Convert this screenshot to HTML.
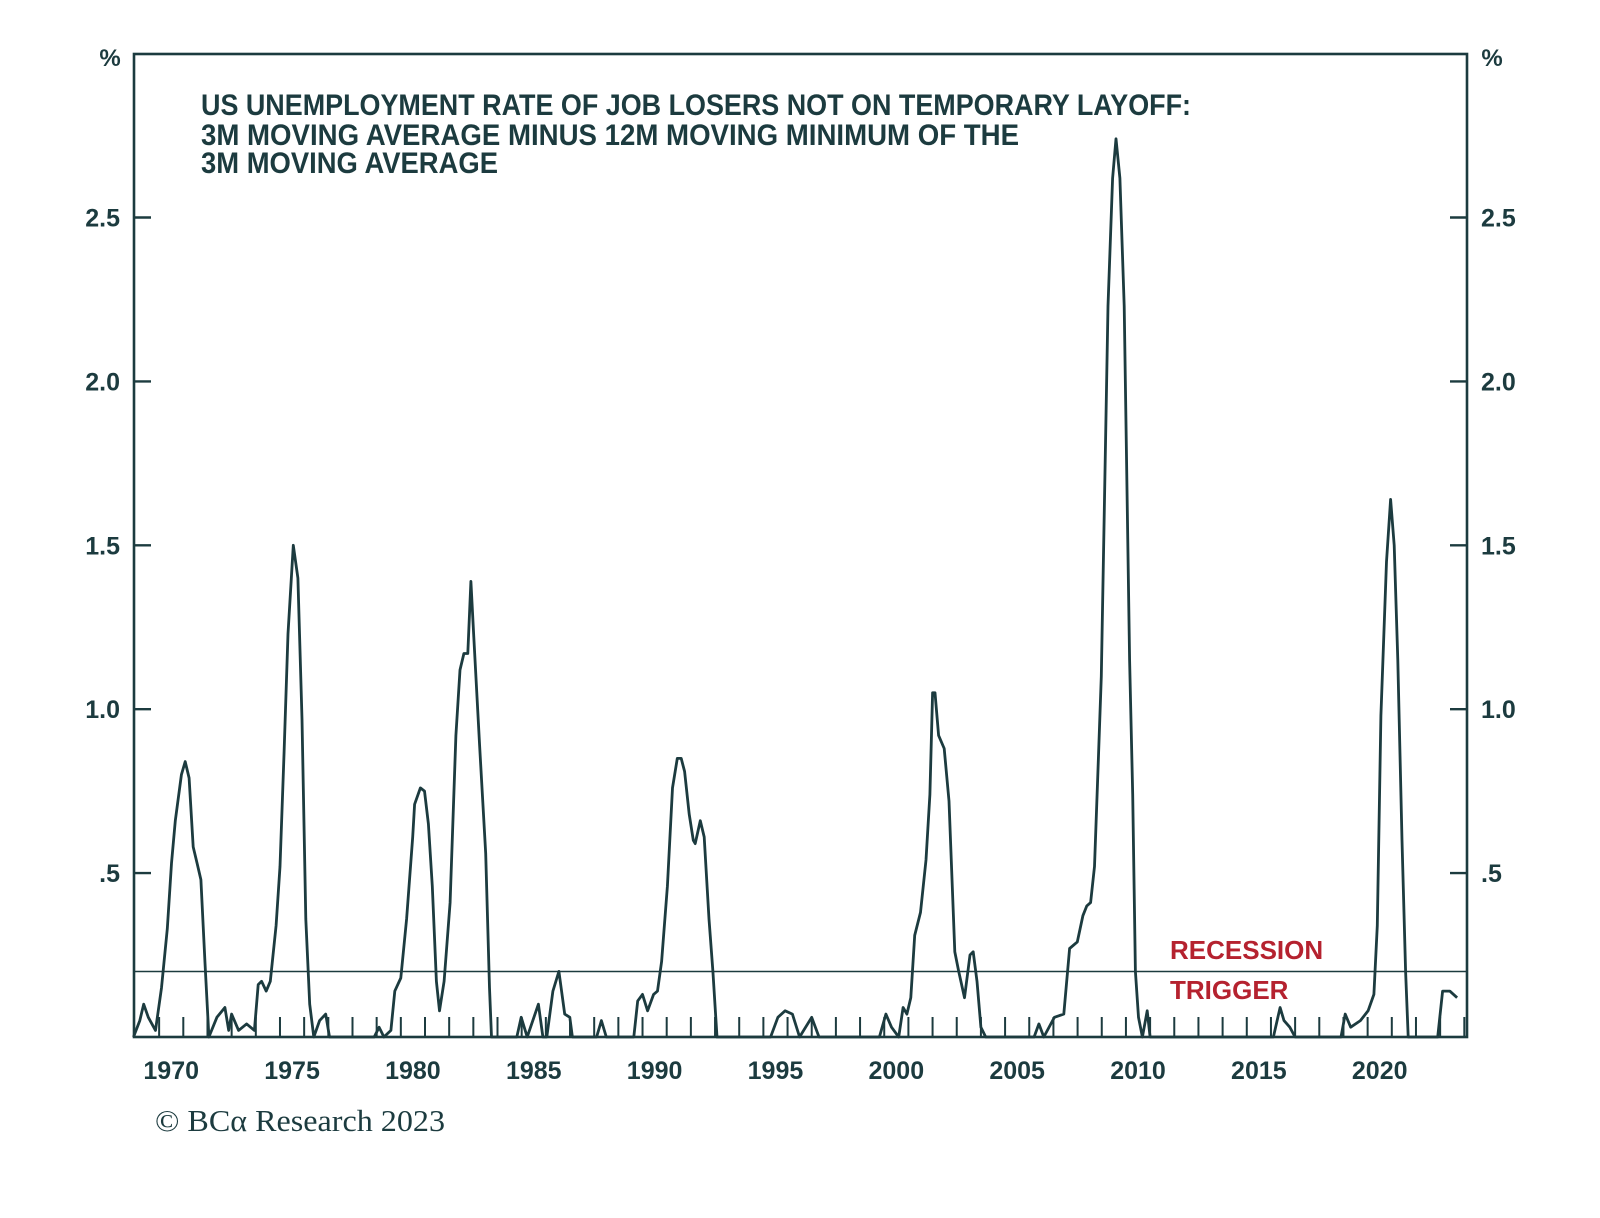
<!DOCTYPE html>
<html><head><meta charset="utf-8"><style>
html,body{margin:0;padding:0;background:#fff;}
body{position:relative;}
svg{display:block;}
#chart{position:absolute;left:0;top:0;}
</style></head>
<body>
<svg id="chart" width="1600" height="1218" viewBox="0 0 1600 1218" xmlns="http://www.w3.org/2000/svg">
<rect x="0" y="0" width="1600" height="1218" fill="#fff"/>
<g id="plot" style="font-family:'Liberation Sans',sans-serif"></g>
</svg>
<script>
const years = [1968.94,1969.2,1969.36,1969.55,1969.85,1970.1,1970.34,1970.51,1970.67,1970.92,1971.08,1971.24,1971.41,1971.57,1971.73,1971.9,1972.06,1972.39,1972.72,1972.88,1973.0,1973.29,1973.62,1973.94,1974.1,1974.24,1974.43,1974.6,1974.84,1975.0,1975.17,1975.33,1975.55,1975.74,1975.91,1976.07,1976.23,1976.4,1976.64,1976.89,1977.05,1978.9,1979.1,1979.3,1979.59,1979.75,1980.0,1980.24,1980.49,1980.57,1980.81,1980.98,1981.14,1981.3,1981.47,1981.6,1981.79,1982.04,1982.28,1982.45,1982.61,1982.77,1982.9,1983.02,1983.26,1983.51,1983.67,1983.75,1984.8,1984.98,1985.23,1985.69,1985.88,1986.04,1986.29,1986.54,1986.78,1986.99,1987.1,1988.1,1988.3,1988.5,1989.64,1989.8,1990.0,1990.21,1990.46,1990.62,1990.79,1991.03,1991.24,1991.44,1991.6,1991.74,1991.93,1992.1,1992.18,1992.39,1992.55,1992.75,1992.91,1993.08,1995.3,1995.6,1995.9,1996.2,1996.5,1997.0,1997.3,1999.8,2000.07,2000.3,2000.6,2000.78,2000.94,2001.1,2001.26,2001.5,2001.73,2001.89,2002.0,2002.1,2002.25,2002.48,2002.68,2002.92,2003.08,2003.32,2003.55,2003.68,2003.84,2004.0,2004.2,2006.2,2006.4,2006.6,2007.04,2007.43,2007.67,2007.99,2008.22,2008.38,2008.54,2008.7,2008.86,2008.98,2009.26,2009.45,2009.59,2009.75,2009.93,2010.15,2010.28,2010.39,2010.52,2010.68,2010.88,2011.0,2016.1,2016.38,2016.54,2016.78,2017.0,2018.9,2019.07,2019.3,2019.7,2020.02,2020.26,2020.4,2020.55,2020.78,2020.95,2021.1,2021.25,2021.42,2021.57,2021.68,2022.9,2023.1,2023.4,2023.7];
const values = [0,0.05,0.10,0.06,0.02,0.15,0.33,0.53,0.66,0.80,0.84,0.79,0.58,0.53,0.48,0.22,0.0,0.06,0.09,0.02,0.07,0.02,0.04,0.02,0.16,0.17,0.14,0.17,0.34,0.52,0.87,1.23,1.50,1.40,0.97,0.36,0.10,0.0,0.05,0.07,0.0,0.0,0.03,0.0,0.02,0.14,0.18,0.36,0.61,0.71,0.76,0.75,0.65,0.46,0.17,0.08,0.17,0.41,0.92,1.12,1.17,1.17,1.39,1.22,0.89,0.56,0.15,0.0,0.0,0.06,0.0,0.10,0.0,0.0,0.14,0.20,0.07,0.06,0.0,0.0,0.05,0.0,0.0,0.11,0.13,0.08,0.13,0.14,0.23,0.46,0.76,0.85,0.85,0.81,0.68,0.60,0.59,0.66,0.61,0.36,0.20,0.0,0.0,0.06,0.08,0.07,0.0,0.06,0.0,0.0,0.07,0.03,0.0,0.09,0.07,0.12,0.31,0.38,0.54,0.74,1.05,1.05,0.92,0.88,0.72,0.26,0.20,0.12,0.25,0.26,0.17,0.03,0.0,0.0,0.04,0.0,0.06,0.07,0.27,0.29,0.37,0.40,0.41,0.52,0.85,1.10,2.23,2.62,2.74,2.62,2.23,1.15,0.74,0.20,0.06,0.0,0.08,0.0,0.0,0.09,0.05,0.03,0.0,0.0,0.07,0.03,0.05,0.08,0.13,0.34,0.98,1.45,1.64,1.50,1.15,0.60,0.20,0.0,0.0,0.14,0.14,0.12];
const yTicks = [0.5,1.0,1.5,2.0,2.5];
const yTickLabels = [".5","1.0","1.5","2.0","2.5"];
const xLabelYears = [1970,1975,1980,1985,1990,1995,2000,2005,2010,2015,2020];
const triggerValue = [0.2];

const L=134, R=1467, T=54, B=1037;
const xs = y => 183.3 + (y-1971)*24.17;
const ys = v => B - v*327.8;
const NS="http://www.w3.org/2000/svg";
const g=document.getElementById('plot');
function mk(tag, attrs, txt){const e=document.createElementNS(NS,tag);for(const k in attrs)e.setAttribute(k,attrs[k]);if(txt!==undefined)e.textContent=txt;g.appendChild(e);return e;}
const C="#1c3b3f";

for(let yr=1969; yr<=2024; yr++){
  const x=xs(yr); if(x<=L+1||x>=R-1) continue;
  const t=mk('line',{x1:x,x2:x,y1:B,y2:B-20,stroke:C,'stroke-width':2});
  
  
}
const tl=mk('line',{x1:L,x2:R,y1:ys(triggerValue[0]),y2:ys(triggerValue[0]),stroke:C,'stroke-width':1.5});



let d='';
years.forEach((yr,i)=>{d+=(i?'L':'M')+xs(yr).toFixed(1)+','+ys(values[i]).toFixed(1);});
const p=mk('path',{d:d,fill:'none',stroke:C,'stroke-width':2.8,'stroke-linejoin':'round'});



const fr=mk('rect',{x:L,y:T,width:R-L,height:B-T,fill:'none',stroke:C,'stroke-width':2.6});



yTicks.forEach((v,i)=>{
  const y=ys(v);
  const a=mk('line',{x1:L,x2:L+17,y1:y,y2:y,stroke:C,'stroke-width':2.4});
  
  
  const b=mk('line',{x1:R-17,x2:R,y1:y,y2:y,stroke:C,'stroke-width':2.4});
  
  
  const lt=mk('text',{x:120,y:y+9,'text-anchor':'end','font-size':25,'font-weight':'bold',fill:C},yTickLabels[i]);
  
  
  const rt=mk('text',{x:1481,y:y+9,'text-anchor':'start','font-size':25,'font-weight':'bold',fill:C},yTickLabels[i]);
  
  
});
xLabelYears.forEach(yr=>{
  const t=mk('text',{x:xs(yr+0.5),y:1079,'text-anchor':'middle','font-size':25,'font-weight':'bold',fill:C},String(yr));
  
  
});
</script>
<svg style="position:absolute;left:0;top:0" width="1600" height="1218">
<text x="110" y="66" text-anchor="middle" font-size="24" font-weight="bold" fill="#1c3b3f" style="font-family:'Liberation Sans',sans-serif">%</text>
<text x="1492" y="66" text-anchor="middle" font-size="24" font-weight="bold" fill="#1c3b3f" style="font-family:'Liberation Sans',sans-serif">%</text>
<g style="font-family:'Liberation Sans',sans-serif" font-weight="bold" font-size="30" fill="#1c3b3f">
<text x="201" y="115" textLength="990" lengthAdjust="spacingAndGlyphs">US UNEMPLOYMENT RATE OF JOB LOSERS NOT ON TEMPORARY LAYOFF:</text>
<text x="201" y="145" textLength="818" lengthAdjust="spacingAndGlyphs">3M MOVING AVERAGE MINUS 12M MOVING MINIMUM OF THE</text>
<text x="201" y="173" textLength="297" lengthAdjust="spacingAndGlyphs">3M MOVING AVERAGE</text>
</g>
<g style="font-family:'Liberation Sans',sans-serif" font-weight="bold" font-size="26" fill="#b5222f">
<text x="1170" y="959">RECESSION</text>
<text x="1170" y="999">TRIGGER</text>
</g>
<text x="155" y="1131" style="font-family:'Liberation Serif',serif" font-size="31" fill="#1c3b3f" textLength="290" lengthAdjust="spacingAndGlyphs">© BCα Research 2023</text>
</svg>
</body></html>
